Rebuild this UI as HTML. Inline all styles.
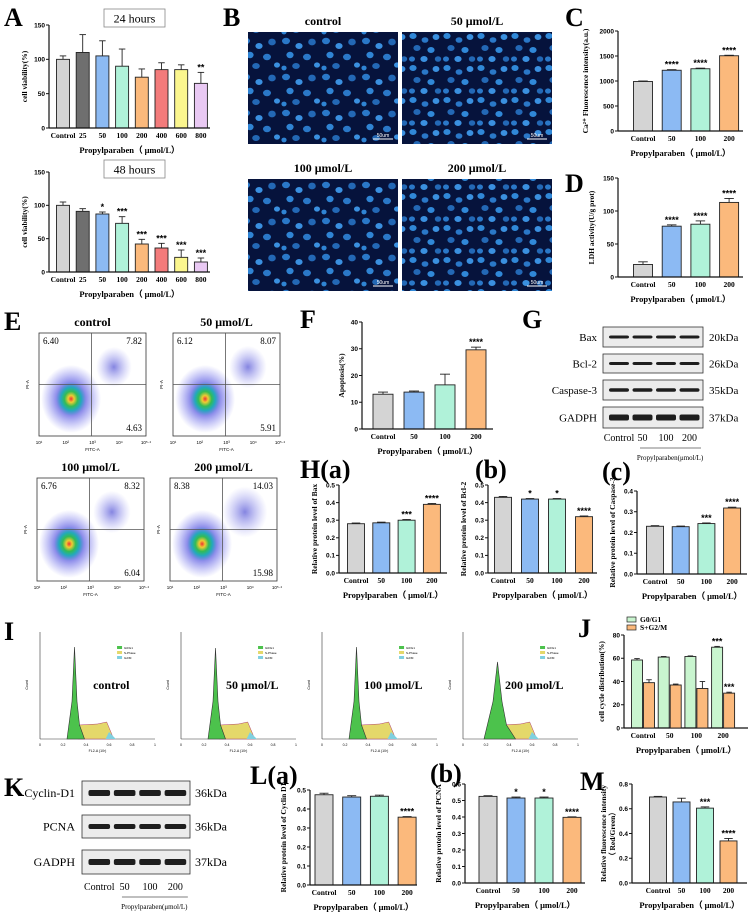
<!DOCTYPE html>
<html><head><meta charset="utf-8">
<style>
html,body{margin:0;padding:0;background:#fff;}
svg{display:block;font-family:"Liberation Serif",serif;}
.pl{font-family:"Liberation Serif",serif;font-weight:bold;font-size:26px;}
.tk{font-family:"Liberation Sans",sans-serif;font-weight:bold;font-size:6.5px;}
.xl{font-family:"Liberation Serif",serif;font-weight:bold;font-size:7.5px;}
.tt{font-family:"Liberation Serif",serif;font-weight:bold;font-size:8.5px;}
</style></head>
<body>
<svg id="fig" width="750" height="914" viewBox="0 0 750 914" xmlns="http://www.w3.org/2000/svg">
<defs>
<pattern id="nuc" width="40" height="36" patternUnits="userSpaceOnUse">
<rect width="40" height="36" fill="#06133c"/>
<ellipse cx="6" cy="5" rx="4" ry="3.2" fill="#2a78c8"/>
<ellipse cx="19" cy="10" rx="3.6" ry="3" fill="#3a90e0"/>
<ellipse cx="32" cy="6" rx="3.8" ry="3.4" fill="#2368b5"/>
<ellipse cx="10" cy="19" rx="3.6" ry="3.2" fill="#2f84d4"/>
<ellipse cx="27" cy="21" rx="4" ry="3.2" fill="#2a78c8"/>
<ellipse cx="37" cy="29" rx="3" ry="2.6" fill="#3a90e0"/>
<ellipse cx="16" cy="30" rx="3.8" ry="3" fill="#2368b5"/>
<ellipse cx="4" cy="32" rx="2.6" ry="2.4" fill="#2f84d4"/>
</pattern>
<pattern id="nuc2" width="34" height="32" patternUnits="userSpaceOnUse">
<rect width="34" height="32" fill="#06133c"/>
<ellipse cx="5" cy="4" rx="3.6" ry="3" fill="#3088d8"/>
<ellipse cx="17" cy="8" rx="3.4" ry="2.8" fill="#2a78c8"/>
<ellipse cx="28" cy="5" rx="3.4" ry="3" fill="#3a90e0"/>
<ellipse cx="9" cy="16" rx="3.6" ry="3" fill="#2368b5"/>
<ellipse cx="23" cy="18" rx="3.6" ry="3" fill="#3088d8"/>
<ellipse cx="4" cy="27" rx="3" ry="2.6" fill="#2a78c8"/>
<ellipse cx="16" cy="27" rx="3.6" ry="3" fill="#3a90e0"/>
<ellipse cx="30" cy="27" rx="3.2" ry="2.8" fill="#2368b5"/>
</pattern>
<radialGradient id="cloud">
<stop offset="0" stop-color="#e33"/><stop offset="0.1" stop-color="#ec3"/>
<stop offset="0.22" stop-color="#3b5"/><stop offset="0.34" stop-color="#2ab"/>
<stop offset="0.5" stop-color="#44d" stop-opacity="0.6"/><stop offset="1" stop-color="#66e" stop-opacity="0"/>
</radialGradient>
<radialGradient id="cloud2">
<stop offset="0" stop-color="#33c" stop-opacity="0.6"/><stop offset="1" stop-color="#77e" stop-opacity="0"/>
</radialGradient>
</defs>
<g id="static"></g>
</svg>
<script>
// ---- data ----
var catsA = ["Control","25","50","100","200","400","600","800"];
var a24Values = [100,110,105,90,74,85,85,65];
var a24Err = [5,26,22,25,12,10,7,16];
var a24Stars = ["","","","","","","","**"];
var a48Values = [100,91,87,73,42,36,22,15];
var a48Err = [5,4,3,10,7,7,11,6];
var a48Stars = ["","","*","***","***","***","***","***"];
var cats4 = ["Control","50","100","200"];
var cValues = [990,1215,1245,1505];
var cErr = [10,12,12,10];
var cStars = ["","****","****","****"];
var dValues = [19,77,80,113];
var dErr = [4,2,5,6];
var dStars = ["","****","****","****"];
var fValues = [13,13.8,16.5,29.6];
var fErr = [0.8,0.4,4,1];
var fStars = ["","","","****"];
var haValues = [0.28,0.285,0.30,0.39];
var haErr = [0.004,0.004,0.004,0.005];
var haStars = ["","","***","****"];
var hbValues = [0.43,0.42,0.42,0.32];
var hbErr = [0.005,0.003,0.003,0.004];
var hbStars = ["","*","*","****"];
var hcValues = [0.23,0.228,0.243,0.318];
var hcErr = [0.003,0.003,0.003,0.004];
var hcStars = ["","","***","****"];
var jG1Values = [58.5,61,61.5,69.5];
var jG1Err = [1.2,0.5,0.5,0.7];
var jSValues = [39,37,34,30];
var jSErr = [2.5,0.8,6,0.8];
var jG1Stars = ["","","","***"];
var jSStars = ["","","","***"];
var laValues = [0.475,0.463,0.467,0.357];
var laErr = [0.008,0.007,0.006,0.003];
var laStars = ["","","","****"];
var lbValues = [0.525,0.515,0.515,0.398];
var lbErr = [0.004,0.006,0.006,0.003];
var lbStars = ["","*","*","****"];
var mValues = [0.695,0.655,0.605,0.34];
var mErr = [0.005,0.03,0.01,0.02];
var mStars = ["","","***","****"];
var ticks150 = [0,50,100,150];
var ticksC = [0,500,1000,1500,2000];
var ticksF = [0,10,20,30,40];
var ticks05 = [0,0.1,0.2,0.3,0.4,0.5];
var ticks04 = [0,0.1,0.2,0.3,0.4];
var ticks06 = [0,0.1,0.2,0.3,0.4,0.5,0.6];
var ticks08 = [0,0.2,0.4,0.6,0.8];
var ticksJ = [0,20,40,60,80];

var NS = "http://www.w3.org/2000/svg";
var root = document.getElementById('static');
function el(tag, attrs, parent, text){
  var e = document.createElementNS(NS, tag);
  for (var k in attrs) e.setAttribute(k, attrs[k]);
  if (text !== undefined) e.textContent = text;
  (parent || root).appendChild(e);
  return e;
}
var colors8 = ["#d4d4d4","#6f6f6f","#8cbaf3","#b0f2d9","#fbb97c","#f37b7b","#fbf68e","#e9c9f3"];
var colors4 = ["#d4d4d4","#8cbaf3","#b0f2d9","#fbb97c"];

function chart(o){
  var g = el('g', {});
  
  
  var ymax = o.ticks[o.ticks.length-1];
  function yS(v){ return o.base - (v/ymax)*(o.base - o.top); }
  function xS(i){ return o.first + i*o.step; }
  for (var i=0;i<o.values.length;i++){
    var v = o.values[i], cx = xS(i) + (o.off||0), y = yS(v);
    var b = el('rect', {x:cx-o.bw/2, y:y, width:o.bw, height:o.base-y, fill:o.colors[i % o.colors.length], stroke:"#222", "stroke-width":0.9}, g);
    
    
    var ye = yS(v + o.err[i]);
    el('line', {x1:cx, x2:cx, y1:y, y2:ye, stroke:"#222","stroke-width":0.9}, g);
    el('line', {x1:cx-o.bw/4, x2:cx+o.bw/4, y1:ye, y2:ye, stroke:"#222","stroke-width":0.9}, g);
    if (o.stars[i]) {
      var s = el('text', {x:cx, y:ye-2, "text-anchor":"middle", "font-family":"Liberation Sans,sans-serif","font-weight":"bold","font-size":9}, g, o.stars[i]);
      
      
    }
  }
  if (o.noAxes) return g;
  el('line', {x1:o.x0, x2:o.x0, y1:o.top, y2:o.base, stroke:"#111","stroke-width":1.2}, g);
  el('line', {x1:o.x0, x2:o.x1, y1:o.base, y2:o.base, stroke:"#111","stroke-width":1.2}, g);
  for (var t=0;t<o.ticks.length;t++){
    var ty = yS(o.ticks[t]);
    el('line', {x1:o.x0-3, x2:o.x0, y1:ty, y2:ty, stroke:"#111","stroke-width":1}, g);
    var tl = el('text', {x:o.x0-4, y:ty+2.3, "text-anchor":"end", "class":"tk"}, g, o.tickFmt ? o.ticks[t].toFixed(1) : o.ticks[t]);
    
    
  }
  for (var c=0;c<o.cats.length;c++){
    var xl = el('text', {x:xS(c), y:o.base+10, "text-anchor":"middle", "class":"xl"}, g, o.cats[c]);
    
    
  }
  var xt = el('text', {x:(o.x0+o.x1)/2, y:o.base+25, "text-anchor":"middle", "class":"tt"}, g, "Propylparaben\uFF08 \u03BCmol/L\uFF09");
  
  
  var ym = (o.top+o.base)/2;
  var yt = el('text', {x:o.x0-o.ylOff, y:ym, "text-anchor":"middle", "class":"xl", transform:"rotate(-90 "+(o.x0-o.ylOff)+" "+ym+")", "font-size":o.ylSize||7.5}, g, o.ylabel);
  
  
  return g;
}

chart({name:"chart-a-24h", values:a24Values, err:a24Err, stars:a24Stars, cats:catsA, colors:colors8, x0:49,x1:210, base:128, top:25, ticks:ticks150, first:63, step:19.7, bw:13, ylabel:"cell viability(%)", ylOff:22});
chart({name:"chart-a-48h", values:a48Values, err:a48Err, stars:a48Stars, cats:catsA, colors:colors8, x0:49,x1:210, base:272, top:172, ticks:ticks150, first:63, step:19.7, bw:13, ylabel:"cell viability(%)", ylOff:22});
chart({name:"chart-c-calcium", values:cValues, err:cErr, stars:cStars, cats:cats4, colors:colors4, x0:618,x1:743, base:131, top:31, ticks:ticksC, first:643, step:28.7, bw:19, ylabel:"Ca\u00B2\u207A Fluorescence intensity(a.u.)", ylOff:30, ylSize:7});
chart({name:"chart-d-ldh", values:dValues, err:dErr, stars:dStars, cats:cats4, colors:colors4, x0:618,x1:743, base:277, top:178, ticks:ticks150, first:643, step:28.7, bw:19, ylabel:"LDH activity(U/g prot)", ylOff:24});
chart({name:"chart-f-apoptosis", values:fValues, err:fErr, stars:fStars, cats:cats4, colors:colors4, x0:362,x1:493, base:429, top:322, ticks:ticksF, first:383, step:31, bw:20, ylabel:"Apoptosis(%)", ylOff:18});
chart({name:"chart-h-bax", values:haValues, err:haErr, stars:haStars, cats:cats4, colors:colors4, x0:339,x1:447, base:573, top:485, ticks:ticks05, tickFmt:1, first:356, step:25.3, bw:17, ylabel:"Relative protein level of Bax", ylOff:22, ylSize:6.5});
chart({name:"chart-h-bcl2", values:hbValues, err:hbErr, stars:hbStars, cats:cats4, colors:colors4, x0:488,x1:597, base:573, top:485, ticks:ticks05, tickFmt:1, first:503, step:27, bw:17, ylabel:"Relative protein level of Bcl-2", ylOff:22, ylSize:6.5});
chart({name:"chart-h-caspase3", values:hcValues, err:hcErr, stars:hcStars, cats:cats4, colors:colors4, x0:637,x1:747, base:574, top:491, ticks:ticks04, tickFmt:1, first:655, step:25.7, bw:17, ylabel:"Relative protein level of Caspase-3", ylOff:22, ylSize:6.5});
chart({name:"chart-j-cell-cycle", values:jG1Values, err:jG1Err, stars:jG1Stars, cats:cats4, colors:["#c9f5cf"], x0:624,x1:748, base:728, top:635, ticks:ticksJ, first:643, step:26.7, bw:11, off:-6, ylabel:"cell cycle distribution(%)", ylOff:20});
chart({name:"chart-j-s-g2m", values:jSValues, err:jSErr, stars:jSStars, cats:cats4, colors:["#fbb97c"], x0:624,x1:748, base:728, top:635, ticks:ticksJ, first:643, step:26.7, bw:11, off:6, noAxes:true});
chart({name:"chart-l-cyclin-d1", values:laValues, err:laErr, stars:laStars, cats:cats4, colors:colors4, x0:310,x1:417, base:885, top:790, ticks:ticks05, tickFmt:1, first:324, step:27.7, bw:18, ylabel:"Relative protein level of Cyclin D1", ylOff:24, ylSize:7});
chart({name:"chart-l-pcna", values:lbValues, err:lbErr, stars:lbStars, cats:cats4, colors:colors4, x0:465,x1:585, base:883, top:784, ticks:ticks06, tickFmt:1, first:488, step:28, bw:18, ylabel:"Relative protein level of PCNA", ylOff:24, ylSize:7});
chart({name:"chart-m-fluorescence", values:mValues, err:mErr, stars:mStars, cats:cats4, colors:colors4, x0:632,x1:747, base:883, top:784, ticks:ticks08, tickFmt:1, first:658, step:23.5, bw:17, ylabel:"Relative fluorescence intensity", ylOff:26, ylSize:6.5});
el('text',{x:615,y:834,"text-anchor":"middle","class":"xl","font-size":6.5,transform:"rotate(-90 615 834)"},root,"\uFF08 Red/Green\uFF09");

var jl = el('g',{});  
el('rect',{x:627,y:617,width:9,height:5,fill:"#c9f5cf",stroke:"#222","stroke-width":0.7},jl);
el('text',{x:640,y:622,"class":"xl","font-weight":"normal"},jl,"G0/G1");
el('rect',{x:627,y:625,width:9,height:5,fill:"#fbb97c",stroke:"#222","stroke-width":0.7},jl);
el('text',{x:640,y:630,"class":"xl","font-weight":"normal"},jl,"S+G2/M");

[[9,"24 hours"],[160,"48 hours"]].forEach(function(h){
  var g = el('g',{});  
  el('rect',{x:104,y:h[0],width:61,height:18,fill:"#fff",stroke:"#888","stroke-width":0.8},g);
  el('text',{x:134.5,y:h[0]+13.5,"text-anchor":"middle","font-size":12},g,h[1]);
});

[["A",4,26],["B",223,26],["C",565,26],["D",565,192],["E",4,330],["F",300,328],["G",522,328],["I",4,640],["J",578,637],["K",4,796],["M",580,790]].forEach(function(p){
  var t = el('text',{x:p[1],y:p[2],"class":"pl"},root,p[0]);
  
  
});
el('text',{x:300,y:478,"class":"pl"},root,"H(a)");
el('text',{x:475,y:478,"class":"pl","font-size":22},root,"(b)");
el('text',{x:602,y:480,"class":"pl","font-size":22},root,"(c)");
el('text',{x:250,y:784,"class":"pl"},root,"L(a)");
el('text',{x:430,y:782,"class":"pl","font-size":22},root,"(b)");

[["control",248,32,"nuc"],["50 \u03BCmol/L",402,32,"nuc2"],["100 \u03BCmol/L",248,179,"nuc"],["200 \u03BCmol/L",402,179,"nuc2"]].forEach(function(m){
  var g = el('g',{});  
  el('rect',{x:m[1],y:m[2],width:150,height:112,fill:"url(#"+m[3]+")"},g);
  el('text',{x:m[1]+75,y:m[2]-7,"text-anchor":"middle","font-weight":"bold","font-size":12},g,m[0]);
  el('line',{x1:m[1]+125,x2:m[1]+145,y1:m[2]+107,y2:m[2]+107,stroke:"#fff","stroke-width":1},g);
  el('text',{x:m[1]+135,y:m[2]+105,"text-anchor":"middle",fill:"#fff","font-size":5,"font-family":"Liberation Sans,sans-serif"},g,"50um");
});

[["control",39,333,"6.40","7.82","4.63",0.55],["50 \u03BCmol/L",173,333,"6.12","8.07","5.91",0.6],["100 \u03BCmol/L",37,478,"6.76","8.32","6.04",0.6],["200 \u03BCmol/L",170,478,"8.38","14.03","15.98",0.8]].forEach(function(p){
  var x=p[1], y=p[2], w=107, h=103;
  var g = el('g',{});  
  el('text',{x:x+w/2,y:y-7,"text-anchor":"middle","font-weight":"bold","font-size":12},g,p[0]);
  el('rect',{x:x,y:y,width:w,height:h,fill:"#fff",stroke:"#333","stroke-width":0.8},g);
  el('ellipse',{cx:x+0.7*w,cy:y+0.33*h,rx:18*p[6]+8,ry:22*p[6]+8,fill:"url(#cloud2)"},g);
  el('ellipse',{cx:x+0.3*w,cy:y+0.64*h,rx:30,ry:34,fill:"url(#cloud)"},g);
  el('line',{x1:x+0.49*w,x2:x+0.49*w,y1:y,y2:y+h,stroke:"#555","stroke-width":0.8},g);
  el('line',{x1:x,x2:x+w,y1:y+0.5*h,y2:y+0.5*h,stroke:"#555","stroke-width":0.8},g);
  el('text',{x:x+4,y:y+11,"font-size":9},g,p[3]);
  el('text',{x:x+w-4,y:y+11,"text-anchor":"end","font-size":9},g,p[4]);
  el('text',{x:x+w-4,y:y+h-5,"text-anchor":"end","font-size":9},g,p[5]);
  ["10\u00B9","10\u00B2","10\u00B3","10\u2074","10\u2075\u00B7\u2074"].forEach(function(l,i){
    el('text',{x:x+i*w/4,y:y+h+8,"text-anchor":"middle","font-size":4.5,"font-family":"Liberation Sans,sans-serif"},g,l);
  });
  el('text',{x:x+w/2,y:y+h+15,"text-anchor":"middle","font-size":4.5,"font-family":"Liberation Sans,sans-serif"},g,"FITC-A");
  el('text',{x:x-10,y:y+h/2,"text-anchor":"middle","font-size":4.5,"font-family":"Liberation Sans,sans-serif",transform:"rotate(-90 "+(x-10)+" "+(y+h/2)+")"},g,"PI-A");
});

function blot(name, x, w, rows, labelsX, kdaX, lanes, fs){
  var g = el('g',{});  
  rows.forEach(function(r){
    el('rect',{x:x,y:r[1],width:w,height:r[2],fill:"#ececec",stroke:"#333","stroke-width":0.8},g);
    for (var i=0;i<4;i++){
      el('rect',{x:x+w*(0.06+i*0.235),y:r[1]+r[2]/2-r[3]/2,width:w*0.2,height:r[3],rx:2,fill:"#1e1e1e"},g);
    }
    el('text',{x:labelsX,y:r[1]+r[2]/2+4,"text-anchor":"end","font-size":fs},g,r[0]);
    el('text',{x:kdaX,y:r[1]+r[2]/2+4,"font-size":fs},g,r[4]);
  });
  ["Control","50","100","200"].forEach(function(l,i){
    el('text',{x:x+w*(0.16+i*0.235),y:lanes,"text-anchor":"middle","font-size":10},g,l);
  });
  el('line',{x1:x+w*0.37,x2:x+w*0.98,y1:lanes+7,y2:lanes+7,stroke:"#555","stroke-width":0.7},g);
  el('text',{x:x+w*0.67,y:lanes+19,"text-anchor":"middle","font-size":7},g,"Propylparaben(\u03BCmol/L)");
}
blot("western-blot-g",603,100,[["Bax",327,20,3,"20kDa"],["Bcl-2",354,19,3,"26kDa"],["Caspase-3",380,20,3.5,"35kDa"],["GADPH",407,21,6,"37kDa"]],597,709,441,11);
blot("western-blot-k",82,108,[["Cyclin-D1",781,24,6,"36kDa"],["PCNA",815,23,5,"36kDa"],["GADPH",850,24,6,"37kDa"]],75,195,890,12);

[["control",40,0.86,2.5],["50 \u03BCmol/L",181,0.85,2.5],["100 \u03BCmol/L",322,0.86,2.5],["200 \u03BCmol/L",463,0.72,4.5]].forEach(function(p){
  var x=p[1], top=632, base=739, w=115, h=base-top;
  var g = el('g',{});  
  el('line',{x1:x,x2:x,y1:top,y2:base,stroke:"#333","stroke-width":0.6},g);
  el('line',{x1:x,x2:x+w,y1:base,y2:base,stroke:"#333","stroke-width":0.6},g);
  var pk = x+0.3*w, ph = base - p[2]*h, wide = p[3];
  el('path',{d:"M"+(x+0.33*w)+" "+base+" L"+(x+0.34*w)+" "+(base-14)+" L"+(x+0.5*w)+" "+(base-15)+" L"+(x+0.58*w)+" "+(base-17)+" L"+(x+0.62*w)+" "+(base-6)+" L"+(x+0.64*w)+" "+base+"Z",fill:"#e4d86a",stroke:"#b04070","stroke-width":0.5},g);
  el('path',{d:"M"+(x+0.57*w)+" "+base+" L"+(x+0.6*w)+" "+(base-7)+" L"+(x+0.66*w)+" "+base+"Z",fill:"#7fd0e0"},g);
  el('path',{d:"M"+(pk-wide*3)+" "+base+" L"+(pk-wide)+" "+(base-h*0.35)+" L"+pk+" "+ph+" L"+(pk+wide)+" "+(base-h*0.35)+" L"+(pk+wide*2)+" "+(base-14)+" L"+(pk+wide*4)+" "+base+"Z",fill:"#4cc24c",stroke:"#333","stroke-width":0.6},g);
  el('rect',{x:x+0.67*w,y:646,width:5,height:3,fill:"#4cc24c"},g);
  el('rect',{x:x+0.67*w,y:651,width:5,height:3,fill:"#e4d86a"},g);
  el('rect',{x:x+0.67*w,y:656,width:5,height:3,fill:"#7fd0e0"},g);
  ["G0/G1","S-Phase","G2/M"].forEach(function(l,i){ el('text',{x:x+0.67*w+7,y:649+i*5,"font-size":3,"font-family":"Liberation Sans,sans-serif"},g,l); });
  el('text',{x:x+0.62*w,y:689,"text-anchor":"middle","font-weight":"bold","font-size":12},g,p[0]);
  ["0","0.2","0.4","0.6","0.8","1"].forEach(function(l,i){ el('text',{x:x+i*w/5,y:746,"text-anchor":"middle","font-size":3.5,"font-family":"Liberation Sans,sans-serif"},g,l); });
  el('text',{x:x+w/2,y:752,"text-anchor":"middle","font-size":3.5,"font-family":"Liberation Sans,sans-serif"},g,"FL2-A (10\u00B3)");
  el('text',{x:x-12,y:685,"text-anchor":"middle","font-size":3.5,"font-family":"Liberation Sans,sans-serif",transform:"rotate(-90 "+(x-12)+" 685)"},g,"Count");
});
</script>
</body></html>
